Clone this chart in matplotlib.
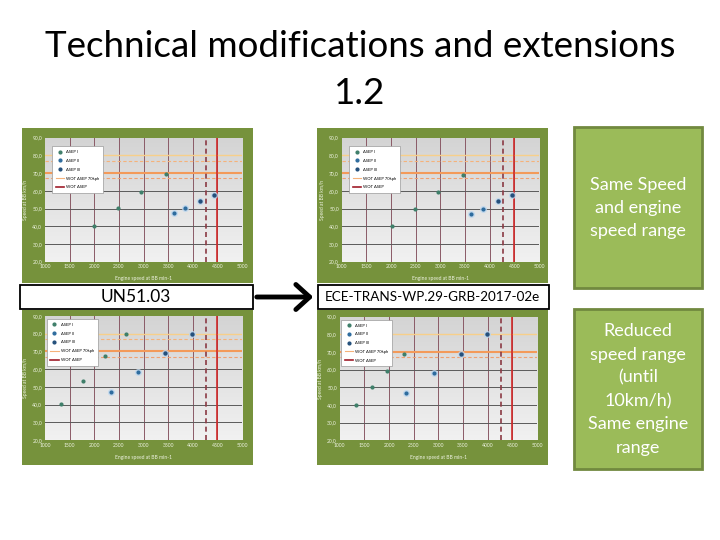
import matplotlib
matplotlib.use("Agg")
import matplotlib.pyplot as plt
import numpy as np
from matplotlib.patches import Rectangle, FancyArrowPatch
from matplotlib.lines import Line2D
from matplotlib.colors import LinearSegmentedColormap

plt.rcParams['font.family'] = ['Lato', 'DejaVu Sans']

W, H = 720, 540

# ---------------- data ----------------
title_text = "Technical modifications and extensions\n1.2"
left_label = "UN51.03"
right_label = "ECE-TRANS-WP.29-GRB-2017-02e"
box1_text = "Same Speed\nand engine\nspeed range"
box2_text = "Reduced\nspeed range\n(until\n10km/h)\nSame engine\nrange"

series_names = ["ASEP I", "ASEP II", "ASEP III"]
ref_names = ["WOT ASEP 70kph", "WOT ASEP"]
x_label = "Engine speed at BB min-1"
y_label = "Speed at BB km/h"

x_ticks = [1000, 1500, 2000, 2500, 3000, 3500, 4000, 4500, 5000]
y_ticks = [20, 30, 40, 50, 60, 70, 80, 90]

# chart 1 (top left, UN51.03)
c1_asep1_rpm = [2000, 2480, 2950, 3450]
c1_asep1_v = [40.2, 50.1, 59.5, 69.3]
c1_asep2_rpm = [3610, 3850]
c1_asep2_v = [47.4, 50.2]
c1_asep3_rpm = [4150, 4425]
c1_asep3_v = [54.4, 57.8]

# chart 2 (top right, ECE-TRANS-WP.29-GRB-2017-02e)
c2_asep1_rpm = [2020, 2490, 2960, 3460]
c2_asep1_v = [40.1, 49.9, 59.3, 69.1]
c2_asep2_rpm = [3630, 3860]
c2_asep2_v = [47.2, 50.0]
c2_asep3_rpm = [4160, 4445]
c2_asep3_v = [54.0, 57.8]

# chart 3 (bottom left, UN51.03)
c3_asep1_rpm = [1325, 1770, 2220, 2645]
c3_asep1_v = [40.3, 53.2, 67.2, 79.8]
c3_asep2_rpm = [2340, 2890]
c3_asep2_v = [47.1, 58.3]
c3_asep3_rpm = [3440, 3990]
c3_asep3_v = [69.1, 79.8]

# chart 4 (bottom right, ECE-TRANS-WP.29-GRB-2017-02e)
c4_asep1_rpm = [1338, 1662, 1966, 2304]
c4_asep1_v = [40.0, 50.0, 59.2, 69.0]
c4_asep2_rpm = [2351, 2905]
c4_asep2_v = [47.0, 58.1]
c4_asep3_rpm = [3453, 3993]
c4_asep3_v = [69.0, 80.0]

# reference lines
h_solid_hi = 80
h_dash_hi = 77
h_solid_lo = 70
h_dash_lo = 67
v_dash = 4275
v_solid = 4500

# ---------------- styling ----------------
FRAME = "#76923C"
BOXFILL = "#9BBB59"
BOXEDGE = "#71893F"
COL1 = "#3F7F6A"
COL2 = "#2E6C9E"
COL3 = "#24507C"

fig = plt.figure(figsize=(7.2, 5.4), dpi=100)
fig.patch.set_facecolor("white")


def fx(x):
    return x / W


def fy(y):
    return 1 - y / H


def rect(x0, y0, x1, y1, fc, ec="none", lw=0, z=0):
    r = Rectangle((fx(x0), fy(y1)), (x1 - x0) / W, (y1 - y0) / H,
                  transform=fig.transFigure, facecolor=fc, edgecolor=ec,
                  linewidth=lw, zorder=z)
    fig.add_artist(r)


grad_cmap = LinearSegmentedColormap.from_list("g", ["#f1f1f1", "#d4d4d4"])


def chart(frame, plot, data, show_hi_dash=True, leg_anchor=(0.036, 0.935)):
    fx0, fy0, fx1, fy1 = frame
    rect(fx0, fy0, fx1, fy1, FRAME)
    px0, py0, px1, py1 = plot
    ax = fig.add_axes([fx(px0), fy(py1), (px1 - px0) / W, (py1 - py0) / H])
    ax.set_xlim(1000, 5000)
    grad = np.linspace(0, 1, 100).reshape(-1, 1)
    ax.imshow(grad, extent=[1000, 5000, 90, 20], aspect="auto", cmap=grad_cmap,
              zorder=0)
    ax.set_ylim(20, 90)
    for xv in x_ticks[1:-1]:
        ax.axvline(xv, color="#8a5a66", lw=0.7, zorder=1)
    for yv in y_ticks[1:-1]:
        ax.axhline(yv, color="#5a5a5a", lw=0.7, zorder=1)
    ax.axhline(h_solid_hi, color="#f7cf8a", lw=1.0, zorder=2)
    if show_hi_dash:
        ax.axhline(h_dash_hi, color="#f5b27a", lw=0.8, ls=(0, (3, 2)), zorder=2)
    ax.axhline(h_solid_lo, color="#f39a5a", lw=1.5, zorder=2)
    ax.axhline(h_dash_lo, color="#f0a070", lw=0.8, ls=(0, (3, 2)), zorder=2)
    ax.axvline(v_dash, color="#8b3a44", lw=1.2, ls=(0, (3, 2)), zorder=2)
    ax.axvline(v_solid, color="#d02a2a", lw=1.2, zorder=2)
    (r1, v1), (r2, v2), (r3, v3) = data
    ax.scatter(r1, v1, s=9, color=COL1, zorder=4, linewidths=0)
    ax.scatter(r2, v2, s=26, color="#bcd6ee", zorder=3, linewidths=0, alpha=0.8)
    ax.scatter(r2, v2, s=9, color=COL2, zorder=4, linewidths=0)
    ax.scatter(r3, v3, s=26, color="#bcd6ee", zorder=3, linewidths=0, alpha=0.8)
    ax.scatter(r3, v3, s=10, color=COL3, zorder=4, linewidths=0)
    ax.set_xticks(x_ticks)
    ax.set_xticklabels([str(t) for t in x_ticks])
    ax.set_yticks(y_ticks)
    ax.set_yticklabels([f"{t},0" for t in y_ticks])
    ax.tick_params(length=0, labelsize=3.6, labelcolor="#eef3e2", pad=2)
    for s in ax.spines.values():
        s.set_visible(False)
    ax.set_xlabel(x_label, fontsize=3.6, color="#eef3e2", labelpad=5)
    ax.set_ylabel(y_label, fontsize=3.6, color="#eef3e2", labelpad=3)
    handles = [
        Line2D([], [], ls="none", marker="o", ms=2, color=COL1),
        Line2D([], [], ls="none", marker="o", ms=2, color=COL2),
        Line2D([], [], ls="none", marker="o", ms=2, color=COL3),
        Line2D([], [], color="#f5b27a", lw=0.8),
        Line2D([], [], color="#a01c2a", lw=1.2),
    ]
    leg = ax.legend(handles, series_names + ref_names, loc="upper left",
                    bbox_to_anchor=leg_anchor, fontsize=3.0, frameon=True,
                    fancybox=False, edgecolor="#9a9a9a", facecolor="white",
                    framealpha=1, borderpad=0.9, labelspacing=1.15,
                    handlelength=2.0, handletextpad=0.5, borderaxespad=0)
    leg.get_frame().set_linewidth(0.5)
    leg.set_zorder(6)
    return ax


chart((22, 128, 253, 283), (45, 137.7, 242, 261.7),
      [(c1_asep1_rpm, c1_asep1_v), (c1_asep2_rpm, c1_asep2_v), (c1_asep3_rpm, c1_asep3_v)],
      leg_anchor=(0.036, 0.93))
chart((317, 128, 548, 283), (341.7, 137.7, 539, 261.7),
      [(c2_asep1_rpm, c2_asep1_v), (c2_asep2_rpm, c2_asep2_v), (c2_asep3_rpm, c2_asep3_v)],
      leg_anchor=(0.036, 0.93))
chart((22, 310, 253, 465), (45, 316, 242, 440),
      [(c3_asep1_rpm, c3_asep1_v), (c3_asep2_rpm, c3_asep2_v), (c3_asep3_rpm, c3_asep3_v)],
      leg_anchor=(0.008, 0.975))
chart((317, 310, 548, 465), (339.7, 316.7, 537, 440.3),
      [(c4_asep1_rpm, c4_asep1_v), (c4_asep2_rpm, c4_asep2_v), (c4_asep3_rpm, c4_asep3_v)],
      show_hi_dash=False, leg_anchor=(0.008, 0.975))

# label boxes
rect(20, 285, 253, 308.5, "white", "black", 1.3, z=5)
fig.text(fx(136), fy(297), left_label, ha="center", va="center", fontsize=12.5,
         color="black", zorder=6)
rect(318, 284.5, 549, 308.5, "white", "black", 1.3, z=5)
t = fig.text(fx(325), fy(297), right_label, ha="left", va="center", fontsize=12.5,
             color="black", zorder=6)
fig.canvas.draw()
bb = t.get_window_extent()
target = 540 - 325
if bb.width > target:
    t.set_fontsize(12.5 * target / bb.width)

# arrow
arr = FancyArrowPatch((fx(254), fy(297)), (fx(316), fy(297)),
                      transform=fig.transFigure,
                      arrowstyle="->,head_length=0.55,head_width=0.5",
                      mutation_scale=18, lw=3.5, color="black", zorder=7)
fig.add_artist(arr)

# right green boxes
rect(574, 127, 702, 288, BOXFILL, BOXEDGE, 2.0, z=1)
fig.text(fx(638), fy(208), box1_text, ha="center", va="center", fontsize=13,
         color="white", linespacing=1.55, zorder=3)
rect(574, 309, 702, 469, BOXFILL, BOXEDGE, 2.0, z=1)
fig.text(fx(638), fy(389.5), box2_text, ha="center", va="center", fontsize=13,
         color="white", linespacing=1.55, zorder=3)

# title
fig.text(0.5, fy(70), title_text, ha="center", va="center", fontsize=26.5,
         color="black", linespacing=1.5)

fig.savefig("out.png", dpi=100, facecolor="white")
